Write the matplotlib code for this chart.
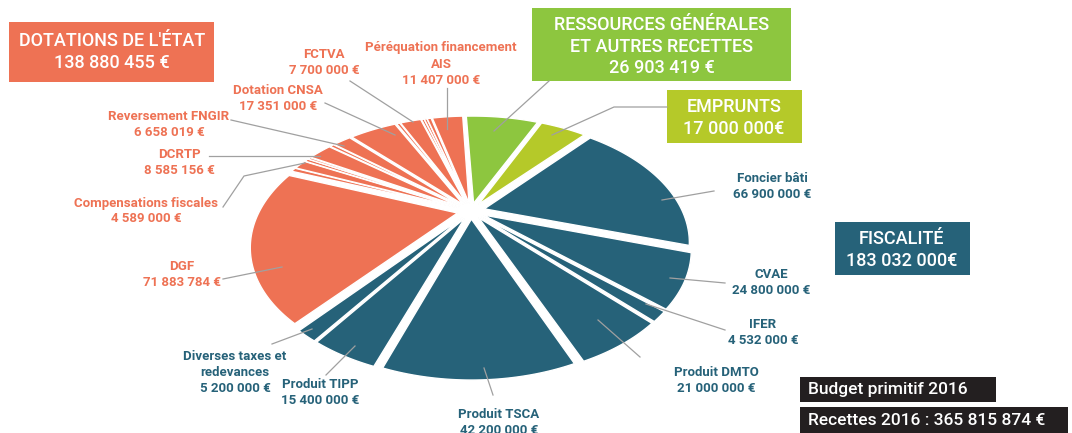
import numpy as np
import matplotlib
matplotlib.use("Agg")
import matplotlib.pyplot as plt
from matplotlib.patches import Polygon, Rectangle

plt.rcParams['font.family'] = ['Roboto', 'DejaVu Sans']

# ---------------- data ----------------
categories = ["Ressources générales", "Emprunts", "Foncier bâti", "CVAE", "IFER",
              "Produit DMTO", "Produit TSCA", "Produit TIPP",
              "Diverses taxes et redevances", "DGF", "autre dotation 1",
              "Compensations fiscales", "autre dotation 2", "autre dotation 3",
              "DCRTP", "autre dotation 4", "Reversement FNGIR", "Dotation CNSA",
              "autre dotation 5", "FCTVA", "autre dotation 6", "autre dotation 7",
              "autre dotation 8", "Péréquation financement AIS"]
values = [26903419, 17000000, 66900000, 24800000, 4532000,
          21000000, 42200000, 15400000,
          5200000, 71883784, 2000000,
          4589000, 1500000, 1000000,
          8585156, 1500000, 6658019, 17351000,
          1200000, 7700000, 1000000, 1000000,
          1506496, 11407000]
groups = ["res", "emp", "fis", "fis", "fis",
          "fis", "fis", "fis",
          "fis", "dot", "dot",
          "dot", "dot", "dot",
          "dot", "dot", "dot", "dot",
          "dot", "dot", "dot", "dot",
          "dot", "dot"]
group_names = {"dot": ["DOTATIONS DE L'ÉTAT"],
               "res": ["RESSOURCES GÉNÉRALES", "ET AUTRES RECETTES"],
               "emp": ["EMPRUNTS"],
               "fis": ["FISCALITÉ"]}
group_totals = {"dot": 138880455, "res": 26903419, "emp": 17000000, "fis": 183032000}
total_label = "Budget primitif 2016"
total_value = 365815874

label_names = {"Foncier bâti": ["Foncier bâti"], "CVAE": ["CVAE"], "IFER": ["IFER"],
               "Produit DMTO": ["Produit DMTO"], "Produit TSCA": ["Produit TSCA"],
               "Produit TIPP": ["Produit TIPP"],
               "Diverses taxes et redevances": ["Diverses taxes et", "redevances"],
               "DGF": ["DGF"], "Compensations fiscales": ["Compensations fiscales"],
               "DCRTP": ["DCRTP"], "Reversement FNGIR": ["Reversement FNGIR"],
               "Dotation CNSA": ["Dotation CNSA"], "FCTVA": ["FCTVA"],
               "Péréquation financement AIS": ["Péréquation financement", "AIS"]}

# ---------------- style ----------------
colors = {"dot": "#EE7254", "fis": "#266279", "res": "#8DC63F", "emp": "#B5C929"}
LEADER = "#a0a0a0"

# label layout (pixel coords): text centre of first line, leader path
label_pos = {"Foncier bâti": (772, 179, [(662, 200), (714, 191)]),
             "CVAE": (771, 275, [(670, 278), (725, 283)]),
             "IFER": (763, 324, [(646, 304), (725, 330)]),
             "Produit DMTO": (716, 372, [(598, 320), (640, 357)]),
             "Produit TSCA": (499, 415, [(484, 368), (493, 395)]),
             "Produit TIPP": (320, 385, [(355, 346), (326, 375)]),
             "Diverses taxes et redevances": (235, 356, [(312, 329), (272, 344)]),
             "DGF": (182, 267, [(282, 267), (223, 279)]),
             "Compensations fiscales": (146, 203, [(305, 163), (244, 176), (223, 207)]),
             "DCRTP": (179, 154, [(320, 156), (209, 156)]),
             "Reversement FNGIR": (169, 116, [(344, 146), (231, 120)]),
             "Dotation CNSA": (278, 91, [(395, 135), (325, 103)]),
             "FCTVA": (324, 55, [(413, 122), (350, 81)]),
             "Péréquation financement AIS": (441, 48, [(447, 129), (447, 88)])}

# perspective of the pie
CX, CY, RX, RY, A = 471, 211, 198, 113.7, 0.262


def proj(x, y):
    d = 1 + A * y
    return CX + RX * x / d, CY - RY * y / d


def fmt(v, sep=" "):
    return f"{v:,}".replace(",", " ") + sep + "€"


fig = plt.figure(figsize=(10.72, 4.33), dpi=100)
ax = fig.add_axes([0, 0, 1, 1])

face = [colors[g] for g in groups]
wedges, _ = ax.pie(values, startangle=92.5, counterclock=False,
                   explode=[0.07] * len(values), radius=1, center=(0, 0),
                   colors=face)

for w, fc in zip(wedges, face):
    (ox, oy), r = w.center, w.r
    t1, t2 = np.radians(w.theta1), np.radians(w.theta2)
    n = max(6, int(np.degrees(t2 - t1) * 2))
    th = np.linspace(t1, t2, n)
    xs = np.concatenate([[ox], ox + r * np.cos(th), [ox]])
    ys = np.concatenate([[oy], oy + r * np.sin(th), [oy]])
    px, py = proj(xs, ys)
    w.remove()
    ax.add_patch(Polygon(np.column_stack([px, py]), closed=True, facecolor=fc,
                         edgecolor="white", linewidth=1.0, zorder=2))

ax.set_aspect('auto')
ax.set_xlim(0, 1072)
ax.set_ylim(433, 0)
ax.axis('off')

# slice labels
for cat, val, g in zip(categories, values, groups):
    if cat not in label_pos:
        continue
    x, y, path = label_pos[cat]
    lines = label_names[cat] + [fmt(val)]
    for i, s in enumerate(lines):
        ax.text(x, y + 16 * i, s, ha='center', va='center', color=colors[g],
                fontsize=9.5, fontweight='bold', zorder=4)
    pxs, pys = zip(*path)
    ax.plot(pxs, pys, color=LEADER, lw=0.9, zorder=3)

# group boxes
box_layout = {"dot": ((9, 22, 205, 60), 112, 41),
              "res": ((532, 8, 259, 73), 662, 25),
              "emp": ((667, 90, 135, 53), 734, 107),
              "fis": ((835, 222, 135, 53), 902, 239)}
box_leaders = {"res": [(494, 131), (549, 81)],
               "emp": [(552, 135), (614, 107), (667, 107)]}
for g, ((bx, by, bw, bh), tx, ty) in box_layout.items():
    ax.add_patch(Rectangle((bx, by), bw, bh, facecolor=colors[g], edgecolor='none', zorder=3))
    sep = "" if g in ("emp", "fis") else " "
    lines = group_names[g] + [fmt(group_totals[g], sep)]
    for i, s in enumerate(lines):
        ax.text(tx, ty + 21.5 * i, s, ha='center', va='center', color='white',
                fontsize=13, fontweight='medium', zorder=4)
for g, path in box_leaders.items():
    pxs, pys = zip(*path)
    ax.plot(pxs, pys, color=LEADER, lw=0.9, zorder=3)

# bottom-right info boxes
ax.add_patch(Rectangle((800, 377), 196, 25, facecolor="#231F20", edgecolor='none', zorder=3))
ax.text(808, 389.5, total_label, ha='left', va='center', color='white',
        fontsize=12.5, fontweight='medium', zorder=4)
ax.add_patch(Rectangle((800, 407), 268, 26, facecolor="#231F20", edgecolor='none', zorder=3))
ax.text(808, 420.5, "Recettes 2016 : " + fmt(total_value), ha='left', va='center',
        color='white', fontsize=12.5, fontweight='medium', zorder=4)

fig.savefig("out.png", dpi=100)
